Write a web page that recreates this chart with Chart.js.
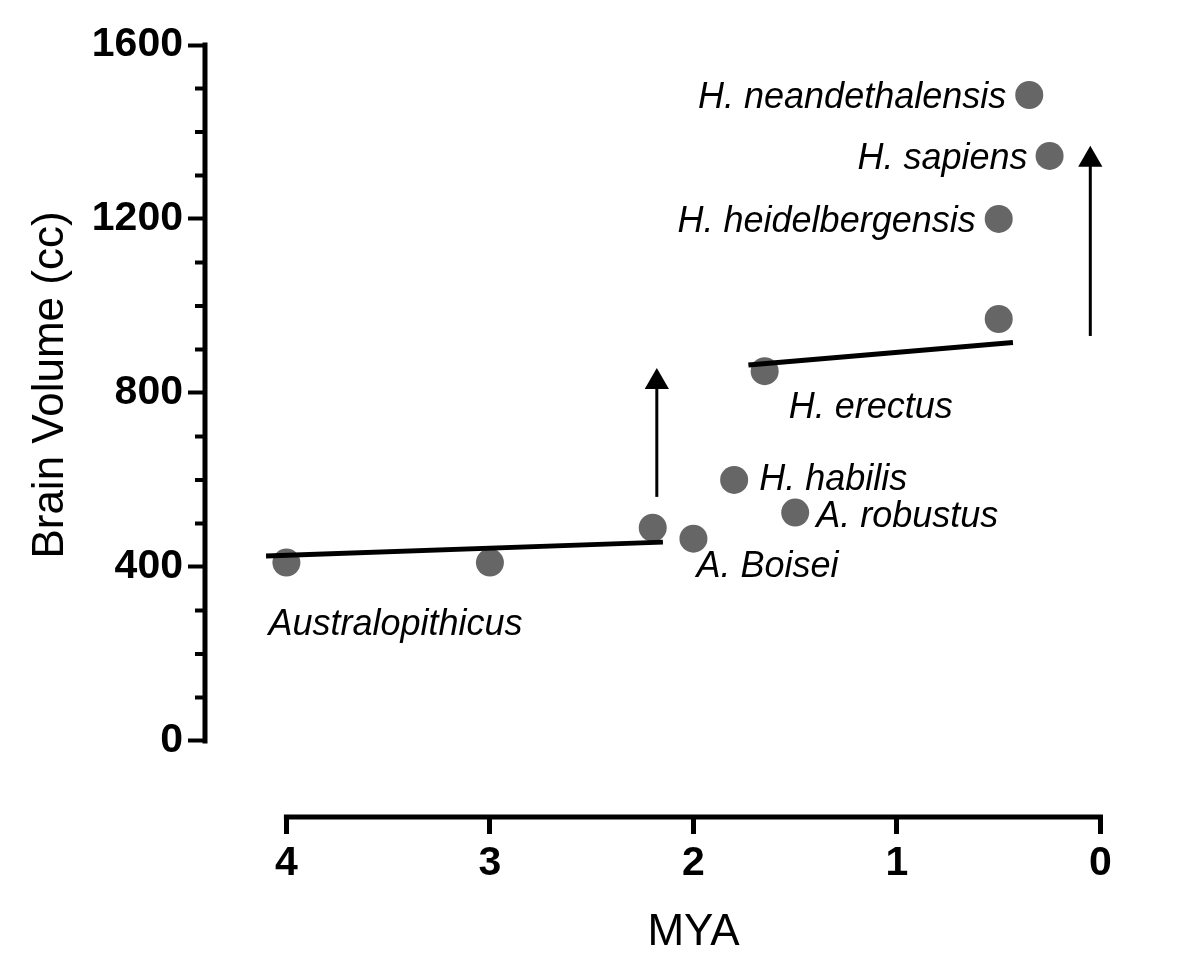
<!DOCTYPE html>
<html>
<head>
<meta charset="utf-8">
<script src="https://cdn.jsdelivr.net/npm/chart.js@4.4.1/dist/chart.umd.min.js"></script>
<style>
  html, body { margin: 0; padding: 0; background: #fff; }
  #wrap { width: 1200px; height: 977px; }
</style>
</head>
<body>
<div id="wrap"><canvas id="brainChart"></canvas></div>
<script>
// fossil estimates: millions of years ago vs brain volume
const mya = [4.0, 3.0, 2.2, 2.0, 1.8, 1.5, 1.65, 0.5, 0.5, 0.25, 0.35];
const brainCc = [410, 410, 490, 465, 600, 525, 850, 970, 1200, 1345, 1485];

// each name sits next to the point with the same index in mya/brainCc
const labelText = ['Australopithicus', 'A. Boisei', 'H. habilis', 'A. robustus', 'H. erectus', 'H. heidelbergensis', 'H. sapiens', 'H. neandethalensis'];
const labelPoint = [0, 3, 4, 5, 6, 8, 9, 10];

// trend segments
const trendEarlyX = [4.1, 2.15];
const trendEarlyY = [425, 457];
const trendLateX = [1.73, 0.43];
const trendLateY = [864, 916];

// jump arrows: shaft start, arrow head
const arrowEarlyX = [2.18, 2.18];
const arrowEarlyY = [561, 825];
const arrowLateX = [0.05, 0.05];
const arrowLateY = [931, 1336];

const xTicks = [0, 1, 2, 3, 4];
const yTicks = [0, 400, 800, 1200, 1600];
const yMinorTicks = [100, 200, 300, 500, 600, 700, 900, 1000, 1100, 1300, 1400, 1500];

const xTitle = 'MYA';
const yTitle = 'Brain Volume (cc)';

const FONT = '"Liberation Sans", Arial, Helvetica, sans-serif';

// label offsets from the point (px) and alignment
const labelLayout = [
    [-18, 59, 'left'],
    [3, 25, 'left'],
    [25, -3, 'left'],
    [21, 1, 'left'],
    [24, 34, 'left'],
    [-23, 0, 'right'],
    [-22, 0, 'right'],
    [-23, 0, 'right']
];

const pts = (xs, ys) => xs.map((x, i) => ({ x: x, y: ys[i] }));

const lineSet = (xs, ys, width) => ({
    data: pts(xs, ys),
    showLine: true,
    borderColor: '#000',
    borderWidth: width,
    pointRadius: 0,
    pointHoverRadius: 0,
    clip: false,
    order: 1
});

const arrowSet = (xs, ys) => Object.assign(lineSet(xs, ys, 3), {
    pointRadius: [0, 14],
    pointHoverRadius: [0, 14],
    pointStyle: 'triangle',
    pointBackgroundColor: '#000',
    pointBorderColor: '#000',
    pointBorderWidth: 0
});

// axis lines only over the data range, minor ticks, titles and species names
const prismAxes = {
    id: 'prismAxes',
    afterDraw(chart) {
        const ctx = chart.ctx;
        const x = chart.scales.x;
        const y = chart.scales.y;
        const left = chart.chartArea.left;
        const bottom = chart.chartArea.bottom;

        ctx.save();
        ctx.strokeStyle = '#000';
        ctx.lineWidth = 5;
        ctx.beginPath();
        ctx.moveTo(left, y.getPixelForValue(yTicks[0]) + 2.5);
        ctx.lineTo(left, y.getPixelForValue(yTicks[yTicks.length - 1]) - 2.5);
        ctx.moveTo(x.getPixelForValue(xTicks[xTicks.length - 1]) - 2.5, bottom);
        ctx.lineTo(x.getPixelForValue(xTicks[0]) + 2.5, bottom);
        ctx.stroke();

        ctx.lineWidth = 4;
        ctx.beginPath();
        yMinorTicks.forEach(v => {
            const py = y.getPixelForValue(v);
            ctx.moveTo(left - 10, py);
            ctx.lineTo(left, py);
        });
        ctx.stroke();

        ctx.fillStyle = '#000';
        ctx.font = '44px ' + FONT;
        ctx.textAlign = 'center';
        ctx.textBaseline = 'alphabetic';
        const midX = (x.getPixelForValue(xTicks[0]) + x.getPixelForValue(xTicks[xTicks.length - 1])) / 2;
        ctx.fillText(xTitle, midX, 945);

        ctx.save();
        ctx.translate(63, 385);
        ctx.rotate(-Math.PI / 2);
        ctx.fillText(yTitle, 0, 0);
        ctx.restore();

        ctx.font = 'italic 36px ' + FONT;
        labelText.forEach((t, i) => {
            const k = labelPoint[i];
            const [dx, dy, align] = labelLayout[i];
            ctx.textAlign = align;
            ctx.fillText(t, x.getPixelForValue(mya[k]) + dx, y.getPixelForValue(brainCc[k]) + dy + 13);
        });
        ctx.restore();
    }
};

new Chart(document.getElementById('brainChart'), {
    type: 'scatter',
    data: {
        datasets: [
            {
                data: pts(mya, brainCc),
                backgroundColor: '#666666',
                borderWidth: 0,
                pointRadius: 14,
                pointHoverRadius: 14,
                clip: false,
                order: 2
            },
            lineSet(trendEarlyX, trendEarlyY, 5),
            lineSet(trendLateX, trendLateY, 5),
            arrowSet(arrowEarlyX, arrowEarlyY),
            arrowSet(arrowLateX, arrowLateY)
        ]
    },
    options: {
        responsive: true,
        maintainAspectRatio: false,
        animation: false,
        events: [],
        layout: { padding: { top: 45, right: 69, bottom: 0, left: 0 } },
        plugins: {
            legend: { display: false },
            tooltip: { enabled: false }
        },
        scales: {
            x: {
                type: 'linear',
                reverse: true,
                min: -0.15,
                max: 4.4,
                afterBuildTicks: s => { s.ticks = xTicks.map(v => ({ value: v })); },
                afterFit: s => { s.height = 160; },
                border: { display: false },
                grid: { drawOnChartArea: false, tickLength: 17, tickWidth: 5, tickColor: '#000' },
                ticks: {
                    color: '#000',
                    padding: 5,
                    maxRotation: 0,
                    autoSkip: false,
                    callback: v => String(v),
                    font: { family: FONT, size: 41, weight: 'bold' }
                }
            },
            y: {
                min: -175,
                max: 1600,
                afterBuildTicks: s => { s.ticks = yTicks.map(v => ({ value: v })); },
                afterFit: s => { s.width = 205; },
                border: { display: false },
                grid: { drawOnChartArea: false, tickLength: 17, tickWidth: 4, tickColor: '#000' },
                ticks: {
                    color: '#000',
                    padding: 5,
                    callback: v => String(v),
                    font: { family: FONT, size: 41, weight: 'bold' }
                }
            }
        }
    },
    plugins: [prismAxes]
});
</script>
</body>
</html>
